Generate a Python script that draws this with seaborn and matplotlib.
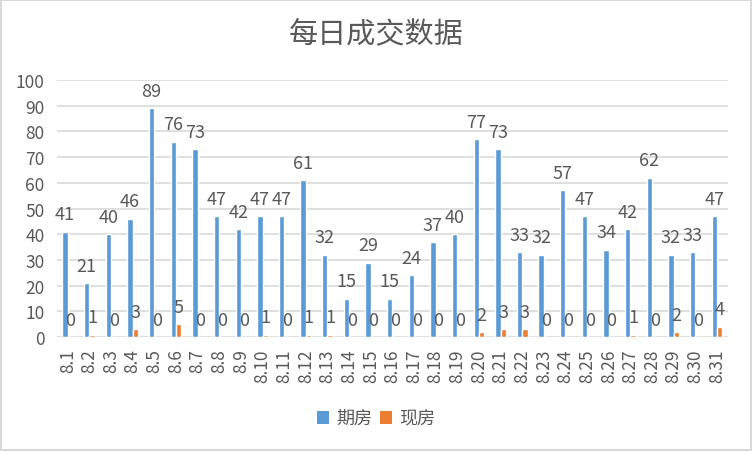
import pandas as pd
import matplotlib
matplotlib.use('Agg')
import matplotlib.pyplot as plt
from matplotlib.patches import Patch
import seaborn as sns

# daily deal data, Aug 1 - Aug 31
dates = [f'8.{d}' for d in range(1, 32)]
qifang = [41, 21, 40, 46, 89, 76, 73, 47, 42, 47, 47, 61, 32, 15, 29, 15,
          24, 37, 40, 77, 73, 33, 32, 57, 47, 34, 42, 62, 32, 33, 47]
xianfang = [0, 1, 0, 3, 0, 5, 0, 0, 0, 1, 0, 1, 1, 0, 0, 0,
            0, 0, 0, 2, 3, 3, 0, 0, 0, 0, 1, 0, 2, 0, 4]
series_names = ['期房', '现房']
colors = ['#5B9BD5', '#ED7D31']

df = pd.DataFrame({
    'date': dates * 2,
    'value': qifang + xianfang,
    'type': [series_names[0]] * len(dates) + [series_names[1]] * len(dates),
})

sns.set_style('white')
plt.rcParams['font.family'] = ['Noto Sans CJK SC', 'DejaVu Sans']
text_color = '#595959'

fig = plt.figure(figsize=(7.52, 4.52), dpi=100)
fig.patch.set_edgecolor('#D9D9D9')
fig.patch.set_linewidth(1.5)
ax = fig.add_axes([0.0758, 0.252, 0.892, 0.569])

sns.barplot(data=df, x='date', y='value', hue='type', palette=colors,
            width=0.5, ax=ax, legend=False, saturation=1)

for cont in ax.containers:
    ax.bar_label(cont, padding=6, fontsize=13, color=text_color, fmt='%g')

ax.set_ylim(0, 100)
ax.set_yticks(range(0, 101, 10))
ax.yaxis.grid(True, color='#D9D9D9', linewidth=1.2)
ax.set_axisbelow(True)
for s in ax.spines.values():
    s.set_visible(False)
ax.set_xlabel('')
ax.set_ylabel('')
ax.tick_params(axis='y', labelsize=12.5, colors=text_color, length=0, pad=9)
ax.tick_params(axis='x', labelsize=12.5, colors=text_color, length=0, pad=8,
               labelrotation=90)
ax.set_xlim(-0.5, len(dates) - 0.5)

handles = [Patch(facecolor=c, edgecolor='none') for c in colors]
fig.legend(handles, series_names, loc='center', bbox_to_anchor=(0.5, 0.071),
           ncol=2, frameon=False, prop={'size': 13}, handlelength=0.7,
           handleheight=0.7, handletextpad=0.4, columnspacing=0.4,
           labelcolor=text_color)

fig.text(0.5, 0.925, '每日成交数据', ha='center', va='center', fontsize=21,
         fontweight='light', color=text_color)

fig.savefig('out.png', dpi=100, edgecolor=fig.get_edgecolor())
